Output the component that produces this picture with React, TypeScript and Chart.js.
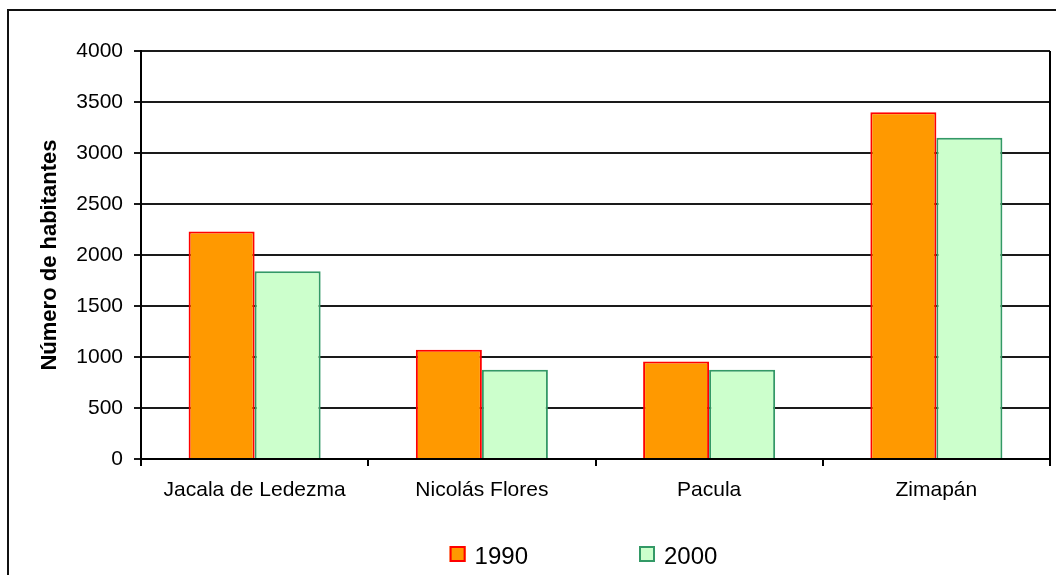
import React, { useEffect, useRef } from "react";
import { Chart, registerables } from "chart.js";

Chart.register(...registerables);

const categories = ["Jacala de Ledezma", "Nicolás Flores", "Pacula", "Zimapán"];
const seriesLabels = ["1990", "2000"];
const values1990 = [2230, 1070, 955, 3400];
const values2000 = [1840, 875, 875, 3150];
const yMin = 0;
const yMax = 4000;
const yStep = 500;

const FONT = "'Liberation Sans', Arial, Helvetica, sans-serif";

const frameAndLegend = {
  id: "frameAndLegend",
  afterDraw(chart: any) {
    const ctx = chart.ctx;
    const area = chart.chartArea;
    ctx.save();
    // right border of plot area
    ctx.strokeStyle = "#000";
    ctx.lineWidth = 2;
    ctx.beginPath();
    ctx.moveTo(area.right, area.top);
    ctx.lineTo(area.right, area.bottom);
    ctx.stroke();

    // legend
    const ds = chart.data.datasets;
    ctx.font = `24px ${FONT}`;
    const box = 16;
    const gapText = 9;
    const gapItems = 111;
    const widths = ds.map((d: any) => box + gapText + ctx.measureText(d.label).width);
    const total = widths.reduce((a: number, b: number) => a + b, 0) + gapItems * (ds.length - 1);
    let x = (area.left + area.right) / 2 - 12 - total / 2;
    const boxTop = 546;
    ds.forEach((d: any, i: number) => {
      ctx.fillStyle = d.backgroundColor;
      ctx.fillRect(x, boxTop, box, box);
      ctx.strokeStyle = d.borderColor;
      ctx.lineWidth = 2;
      ctx.strokeRect(x + 1, boxTop + 1, box - 2, box - 2);
      ctx.fillStyle = "#000";
      ctx.textBaseline = "alphabetic";
      ctx.textAlign = "left";
      ctx.fillText(d.label, x + box + gapText, 564);
      x += widths[i] + gapItems;
    });
    ctx.restore();
  },
};

export default function App() {
  const ref = useRef<HTMLCanvasElement | null>(null);

  useEffect(() => {
    if (!ref.current) return;
    const chart = new Chart(ref.current, {
      type: "bar",
      data: {
        labels: categories,
        datasets: [
          {
            label: seriesLabels[0],
            data: values1990,
            backgroundColor: "#FF9900",
            borderColor: "#FF0000",
            borderWidth: 2,
            categoryPercentage: 0.581,
            barPercentage: 1,
          },
          {
            label: seriesLabels[1],
            data: values2000,
            backgroundColor: "#CCFFCC",
            borderColor: "#339966",
            borderWidth: 2,
            categoryPercentage: 0.581,
            barPercentage: 1,
          },
        ],
      },
      options: {
        responsive: false,
        animation: false,
        layout: { padding: { left: 0, top: 51, right: 6, bottom: 0 } },
        plugins: {
          legend: { display: false },
          tooltip: { enabled: false },
        },
        scales: {
          x: {
            grid: {
              offset: true,
              drawOnChartArea: false,
              drawTicks: true,
              tickLength: 7,
              color: "#000",
              lineWidth: 2,
            },
            border: { display: true, color: "#000", width: 2 },
            ticks: {
              color: "#000",
              font: { family: FONT, size: 21 },
              padding: 12,
              maxRotation: 0,
            },
            afterFit(scale: any) {
              scale.height = 116;
            },
          },
          y: {
            min: yMin,
            max: yMax,
            ticks: {
              stepSize: yStep,
              color: "#000",
              font: { family: FONT, size: 21 },
              padding: 11,
              callback: (v: any) => String(v),
            },
            grid: {
              color: "#1a1a1a",
              lineWidth: 2,
              drawTicks: true,
              tickLength: 7,
            },
            border: { display: true, color: "#000", width: 2 },
            title: {
              display: true,
              text: "Número de habitantes",
              color: "#000",
              font: { family: FONT, size: 22, weight: "bold" },
              padding: { top: 37, bottom: 0 },
            },
            afterFit(scale: any) {
              scale.width = 141;
            },
          },
        },
      },
      plugins: [frameAndLegend],
    });
    return () => chart.destroy();
  }, []);

  return (
    <div style={{ position: "fixed", inset: 0, overflow: "hidden", background: "#fff" }}>
      <div
        style={{
          position: "absolute",
          left: 7,
          top: 9,
          width: 1200,
          height: 800,
          border: "2px solid #111",
        }}
      />
      <canvas
        ref={ref}
        width={1056}
        height={575}
        style={{ position: "absolute", left: 0, top: 0, width: 1056, height: 575 }}
      />
    </div>
  );
}
